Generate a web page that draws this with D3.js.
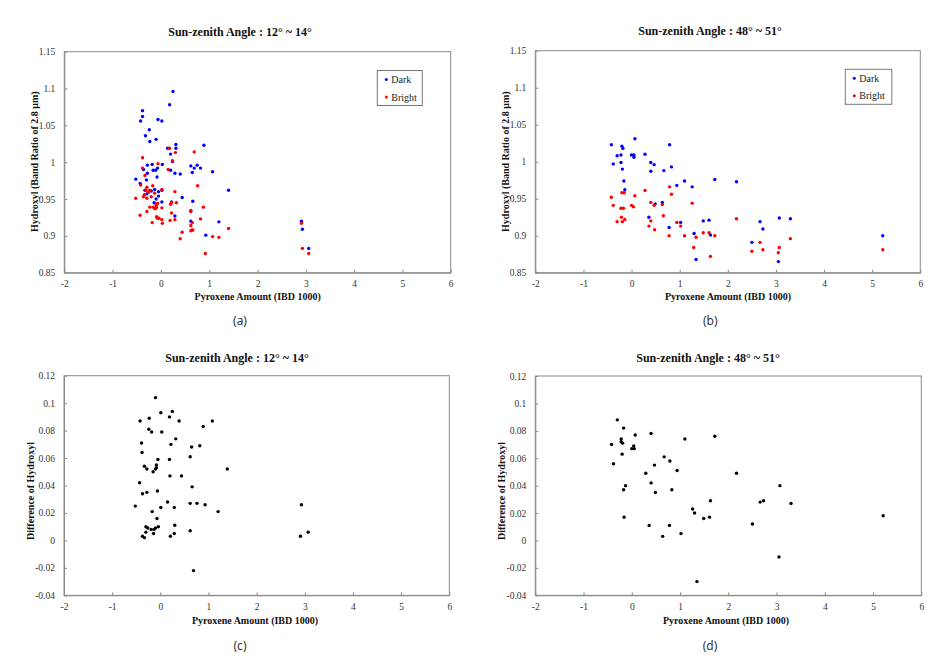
<!DOCTYPE html>
<html>
<head>
<meta charset="utf-8">
<script src="https://cdn.jsdelivr.net/npm/d3@7"></script>
<style>
  html, body { margin: 0; padding: 0; background: #fff; }
  svg { display: block; }
</style>
</head>
<body>
<svg id="chart" width="932" height="660"></svg>
<script>
// ---------------- DATA ----------------
const xTickValues = [-2, -1, 0, 1, 2, 3, 4, 5, 6];
const xTickLabels = ["-2", "-1", "0", "1", "2", "3", "4", "5", "6"];
const ratioTickValues = [0.85, 0.9, 0.95, 1, 1.05, 1.1, 1.15];
const ratioTickLabels = ["0.85", "0.9", "0.95", "1", "1.05", "1.1", "1.15"];
const diffTickValues = [-0.04, -0.02, 0, 0.02, 0.04, 0.06, 0.08, 0.1, 0.12];
const diffTickLabels = ["-0.04", "-0.02", "0", "0.02", "0.04", "0.06", "0.08", "0.1", "0.12"];

const seriesNames = ["Dark", "Bright"];
const titleA = "Sun-zenith Angle : 12° ~ 14°";
const titleB = "Sun-zenith Angle : 48° ~ 51°";
const xLabel = "Pyroxene Amount (IBD 1000)";
const yLabelRatio = "Hydroxyl (Band Ratio of 2.8 μm)";
const yLabelDiff = "Difference of Hydroxyl";
const captions = ["(a)", "(b)", "(c)", "(d)"];

// Panel (a): 12°~14°, Dark
const darkA = [
  [0.25,1.096],[0.18,1.078],[-0.38,1.070],[-0.38,1.062],[-0.42,1.056],[-0.06,1.058],[0.02,1.056],
  [-0.24,1.044],[-0.32,1.036],[-0.10,1.031],[-0.23,1.028],[0.89,1.023],[0.31,1.024],[0.31,1.019],
  [0.14,1.019],[0.20,1.011],[0.24,1.001],[0.62,0.995],[0.75,0.996],[0.82,0.992],[0.69,0.992],
  [0.65,0.986],[1.07,0.987],[-0.18,0.997],[0.03,0.997],[-0.28,0.996],[-0.07,0.992],[-0.16,0.989],
  [-0.11,0.989],[-0.36,0.990],[0.20,0.989],[-0.28,0.985],[0.29,0.985],[0.40,0.984],[-0.08,0.980],
  [-0.52,0.977],[-0.30,0.976],[-0.43,0.971],[1.40,0.962],[-0.13,0.963],[0.02,0.962],[-0.05,0.960],
  [-0.33,0.962],[-0.20,0.961],[-0.29,0.957],[-0.05,0.954],[0.44,0.952],[-0.10,0.950],[0.66,0.947],
  [0.22,0.946],[0.02,0.946],[-0.14,0.945],[0.29,0.927],[0.62,0.934],[0.62,0.920],[1.20,0.919],
  [0.93,0.901],[2.91,0.920],[2.93,0.909],[3.06,0.883]
];
// Panel (a): 12°~14°, Bright
const brightA = [
  [0.18,1.019],[0.30,1.013],[0.69,1.014],[-0.38,1.006],[0.24,1.002],[-0.06,0.998],[-0.38,0.992],
  [0.15,0.990],[-0.33,0.982],[-0.42,0.969],[0.76,0.968],[-0.17,0.968],[-0.29,0.966],[-0.31,0.962],
  [-0.23,0.962],[0.02,0.963],[0.29,0.960],[-0.52,0.951],[-0.29,0.951],[-0.20,0.953],[-0.13,0.958],
  [-0.34,0.956],[-0.36,0.953],[-0.26,0.959],[0.20,0.943],[0.22,0.945],[0.32,0.945],[0.88,0.939],
  [-0.23,0.939],[-0.16,0.939],[-0.10,0.942],[-0.07,0.944],[-0.09,0.939],[-0.11,0.937],[-0.13,0.937],
  [0.02,0.938],[-0.29,0.933],[0.22,0.931],[0.62,0.933],[-0.09,0.926],[-0.07,0.924],[-0.04,0.924],
  [-0.43,0.928],[0.82,0.923],[0.02,0.922],[0.19,0.921],[0.29,0.922],[-0.18,0.918],[0.03,0.917],
  [0.65,0.918],[0.62,0.914],[0.64,0.908],[0.66,0.908],[0.62,0.907],[1.40,0.910],[0.44,0.905],
  [1.07,0.899],[1.20,0.898],[0.40,0.896],[0.92,0.876],[2.91,0.917],[2.93,0.883],[3.06,0.876]
];
// Panel (b): 48°~51°, Dark
const darkB = [
  [-0.42,1.023],[0.07,1.031],[0.79,1.023],[-0.20,1.021],[-0.18,1.018],[-0.30,1.008],[-0.22,1.009],
  [0.00,1.009],[0.05,1.009],[0.05,1.006],[0.28,1.010],[-0.38,0.997],[-0.22,0.999],[0.40,0.999],
  [0.47,0.996],[0.83,0.993],[-0.19,0.990],[0.40,0.987],[0.67,0.988],[-0.16,0.974],[1.10,0.974],
  [1.73,0.976],[2.18,0.973],[0.94,0.968],[1.26,0.966],[-0.14,0.962],[0.49,0.943],[0.64,0.945],
  [0.36,0.925],[1.02,0.918],[1.49,0.920],[1.61,0.921],[2.67,0.919],[3.07,0.924],[3.30,0.923],
  [0.78,0.911],[2.73,0.909],[1.30,0.903],[1.64,0.901],[2.50,0.891],[1.34,0.868],[3.05,0.865],
  [5.22,0.900]
];
// Panel (b): 48°~51°, Bright
const brightB = [
  [-0.42,0.952],[-0.20,0.958],[-0.15,0.958],[0.07,0.954],[0.28,0.961],[0.79,0.966],[0.83,0.956],
  [-0.38,0.941],[-0.22,0.937],[-0.17,0.937],[0.00,0.941],[0.04,0.939],[0.40,0.945],[0.47,0.941],
  [0.64,0.942],[1.26,0.944],[-0.21,0.925],[-0.14,0.922],[-0.30,0.919],[-0.19,0.919],[0.40,0.920],
  [0.36,0.913],[0.66,0.927],[0.94,0.918],[1.02,0.913],[0.48,0.908],[0.78,0.900],[1.10,0.900],
  [1.34,0.898],[1.49,0.904],[1.61,0.904],[1.73,0.900],[2.18,0.923],[3.30,0.896],[1.29,0.884],
  [1.64,0.872],[2.67,0.891],[2.50,0.879],[2.73,0.881],[3.07,0.884],[3.05,0.877],[5.22,0.881]
];
// Panel (c): 12°~14°, difference
const diffC = [
  [-0.10,0.104],[0.01,0.093],[0.25,0.094],[0.19,0.090],[-0.42,0.087],[-0.23,0.089],[0.39,0.087],
  [1.08,0.087],[0.89,0.083],[-0.24,0.081],[-0.18,0.079],[0.03,0.079],[-0.39,0.071],[0.32,0.074],
  [0.22,0.070],[0.65,0.068],[0.82,0.069],[-0.38,0.064],[0.62,0.061],[-0.05,0.059],[0.19,0.059],
  [-0.08,0.055],[-0.08,0.053],[-0.10,0.052],[-0.33,0.054],[-0.28,0.052],[-0.15,0.050],[1.39,0.052],
  [0.20,0.047],[0.44,0.047],[0.66,0.039],[-0.06,0.036],[-0.28,0.035],[-0.37,0.034],[-0.43,0.042],
  [0.15,0.028],[-0.52,0.025],[0.01,0.024],[0.29,0.024],[0.62,0.027],[0.76,0.027],[0.93,0.026],
  [1.20,0.021],[2.93,0.026],[-0.17,0.021],[-0.07,0.016],[0.30,0.011],[-0.30,0.010],[-0.26,0.009],
  [-0.30,0.006],[-0.19,0.008],[-0.13,0.008],[-0.10,0.009],[-0.04,0.010],[-0.14,0.005],[0.62,0.007],
  [0.29,0.005],[0.21,0.003],[-0.37,0.003],[-0.33,0.002],[2.91,0.003],[3.07,0.006],[0.69,-0.022]
];
// Panel (d): 48°~51°, difference
const diffD = [
  [-0.30,0.088],[-0.17,0.082],[0.07,0.077],[0.40,0.078],[1.10,0.074],[1.72,0.076],[-0.42,0.070],
  [-0.22,0.074],[-0.22,0.072],[-0.19,0.071],[0.00,0.067],[0.04,0.069],[0.05,0.067],[-0.20,0.063],
  [-0.38,0.056],[0.67,0.061],[0.79,0.058],[0.94,0.051],[0.47,0.055],[0.29,0.049],[0.40,0.042],
  [0.49,0.035],[0.83,0.037],[-0.13,0.040],[-0.17,0.037],[2.17,0.049],[3.07,0.040],[1.63,0.029],
  [2.66,0.028],[2.73,0.029],[3.30,0.027],[1.26,0.023],[1.30,0.020],[1.49,0.016],[1.61,0.017],
  [-0.16,0.017],[0.36,0.011],[0.78,0.011],[2.50,0.012],[0.64,0.003],[1.02,0.005],[3.05,-0.012],
  [1.35,-0.030],[5.21,0.018]
];

// ---------------- DRAWING ----------------
const svg = d3.select("#chart");
const SERIF = "'Liberation Serif', 'Times New Roman', serif";
const FRAME = "#8a8a8a";

function drawPanel(cfg) {
  const g = svg.append("g");
  const x = d3.scaleLinear().domain([-2, 6]).range([cfg.left, cfg.right]);
  const y = d3.scaleLinear().domain(cfg.yDomain).range([cfg.bottom, cfg.top]);

  // frame
  g.append("rect")
    .attr("x", cfg.left).attr("y", cfg.top)
    .attr("width", cfg.right - cfg.left).attr("height", cfg.bottom - cfg.top)
    .attr("fill", "none").attr("stroke", FRAME).attr("stroke-width", 1);

  // x axis
  const xa = g.append("g").attr("transform", `translate(0,${cfg.bottom})`)
    .call(d3.axisBottom(x).tickValues(xTickValues)
      .tickFormat((d, i) => xTickLabels[i]).tickSizeInner(-3).tickSizeOuter(0).tickPadding(8));
  xa.select(".domain").attr("stroke", FRAME);
  xa.selectAll(".tick line").attr("stroke", FRAME);
  xa.selectAll("text").attr("font-family", SERIF).attr("font-size", 9.5).attr("fill", "#333");

  // y axis
  const ya = g.append("g").attr("transform", `translate(${cfg.left},0)`)
    .call(d3.axisLeft(y).tickValues(cfg.yTicks)
      .tickFormat((d, i) => cfg.yLabels[i]).tickSizeInner(-3).tickSizeOuter(0).tickPadding(9));
  ya.select(".domain").attr("stroke", FRAME);
  ya.selectAll(".tick line").attr("stroke", FRAME);
  ya.selectAll("text").attr("font-family", SERIF).attr("font-size", 9.5).attr("fill", "#333");

  // points
  cfg.series.forEach(s => {
    g.append("g").selectAll("circle").data(s.data).join("circle")
      .attr("cx", d => x(d[0])).attr("cy", d => y(d[1]))
      .attr("r", 1.7).attr("fill", s.color);
  });

  // title
  g.append("text").attr("x", cfg.titleX).attr("y", cfg.titleY)
    .attr("text-anchor", "middle").attr("dominant-baseline", "central")
    .attr("font-family", SERIF).attr("font-weight", "bold").attr("font-size", 12)
    .attr("fill", "#111").text(cfg.title);

  // x label
  g.append("text").attr("x", cfg.xLabX).attr("y", cfg.xLabY)
    .attr("text-anchor", "middle").attr("dominant-baseline", "central")
    .attr("font-family", SERIF).attr("font-weight", "bold").attr("font-size", 10)
    .attr("fill", "#111").text(xLabel);

  // y label
  g.append("text")
    .attr("transform", `translate(${cfg.yLabX},${cfg.yLabY}) rotate(-90)`)
    .attr("text-anchor", "middle").attr("dominant-baseline", "central")
    .attr("font-family", SERIF).attr("font-weight", "bold").attr("font-size", 10)
    .attr("fill", "#111").text(cfg.yLabel);

  // caption
  g.append("text").attr("x", cfg.capX).attr("y", cfg.capY)
    .attr("text-anchor", "middle").attr("dominant-baseline", "central")
    .attr("font-family", "'Noto Sans', 'Open Sans', sans-serif").attr("font-size", 12)
    .attr("fill", "#333").text(cfg.caption);

  // legend
  if (cfg.legend) {
    const L = cfg.legend;
    g.append("rect").attr("x", L.x).attr("y", L.y).attr("width", L.w).attr("height", L.h)
      .attr("fill", "#fff").attr("stroke", "#777").attr("stroke-width", 1);
    cfg.series.forEach((s, i) => {
      const cy = L.y + L.row0 + i * L.rowGap;
      g.append("circle").attr("cx", L.x + 9).attr("cy", cy).attr("r", 1.5).attr("fill", s.color);
      g.append("text").attr("x", L.x + 14).attr("y", cy)
        .attr("dominant-baseline", "central")
        .attr("font-family", SERIF).attr("font-size", 10).attr("fill", "#222")
        .text(seriesNames[i]);
    });
  }
}

drawPanel({
  left: 64.3, right: 450.7, top: 51.7, bottom: 272.7,
  yDomain: [0.85, 1.15], yTicks: ratioTickValues, yLabels: ratioTickLabels,
  series: [{ data: darkA, color: "#0000ff" }, { data: brightA, color: "#ff0000" }],
  title: titleA, titleX: 240, titleY: 32,
  xLabX: 257.7, xLabY: 296.7,
  yLabel: yLabelRatio, yLabX: 34, yLabY: 161.7,
  caption: captions[0], capX: 240, capY: 320.5,
  legend: { x: 377.3, y: 70.5, w: 45, h: 35, row0: 9, rowGap: 17.5 }
});
drawPanel({
  left: 535.3, right: 920.3, top: 50.7, bottom: 272.7,
  yDomain: [0.85, 1.15], yTicks: ratioTickValues, yLabels: ratioTickLabels,
  series: [{ data: darkB, color: "#0000ff" }, { data: brightB, color: "#ff0000" }],
  title: titleB, titleX: 710, titleY: 31,
  xLabX: 728, xLabY: 296.7,
  yLabel: yLabelRatio, yLabX: 505, yLabY: 161.7,
  caption: captions[1], capX: 710.3, capY: 320.5,
  legend: { x: 845.3, y: 69.3, w: 46.5, h: 35, row0: 9, rowGap: 17.5 }
});
drawPanel({
  left: 64, right: 449.3, top: 375.7, bottom: 595.3,
  yDomain: [-0.04, 0.12], yTicks: diffTickValues, yLabels: diffTickLabels,
  series: [{ data: diffC, color: "#000" }],
  title: titleA, titleX: 237, titleY: 358,
  xLabX: 255, xLabY: 620,
  yLabel: yLabelDiff, yLabX: 30, yLabY: 491,
  caption: captions[2], capX: 240, capY: 645
});
drawPanel({
  left: 535.3, right: 921.3, top: 376, bottom: 595.3,
  yDomain: [-0.04, 0.12], yTicks: diffTickValues, yLabels: diffTickLabels,
  series: [{ data: diffD, color: "#000" }],
  title: titleB, titleX: 708, titleY: 358,
  xLabX: 726, xLabY: 620,
  yLabel: yLabelDiff, yLabX: 501, yLabY: 491,
  caption: captions[3], capX: 710, capY: 645
});
</script>
</body>
</html>
